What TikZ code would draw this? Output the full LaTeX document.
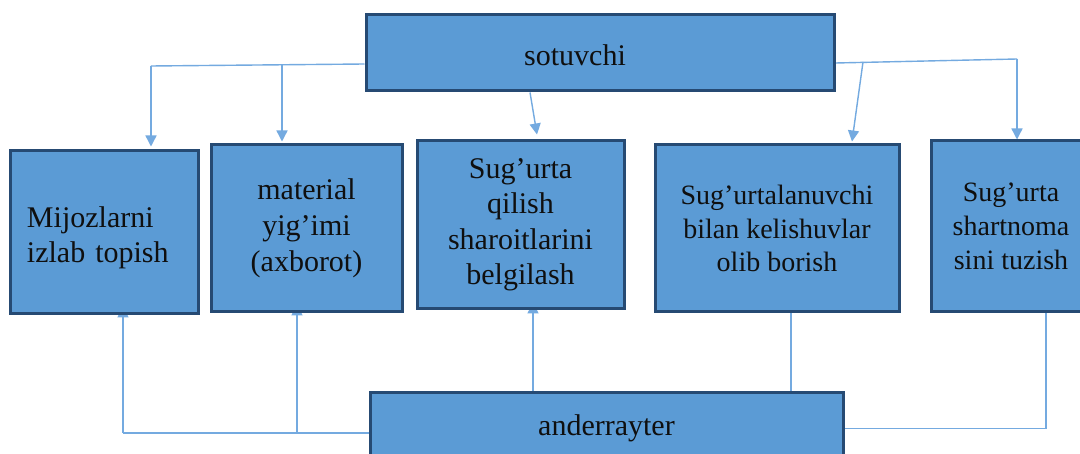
\documentclass[tikz,border=0pt]{standalone}
\usepackage{fontspec}
\setmainfont{Liberation Serif}
\usetikzlibrary{arrows.meta,backgrounds,calc}
\definecolor{boxfill}{RGB}{91,155,213}
\definecolor{boxedge}{RGB}{38,74,115}
\definecolor{linec}{RGB}{116,170,224}
\definecolor{txt}{RGB}{15,15,15}
\begin{document}
\begin{tikzpicture}[x=1pt,y=-1pt,
  box/.style={draw=boxedge, fill=boxfill, line width=3pt, inner sep=0pt, text=txt,
    font=\fontsize{30pt}{35pt}\selectfont, align=center},
  boxtext/.style={text=txt, font=\fontsize{30pt}{35pt}\selectfont, inner sep=0pt},
  conn/.style={draw=linec, line width=1.4pt},
  arr/.style={conn, -{Triangle[width=11pt,length=11pt]}, fill=linec}]
\clip (0,0) rectangle (1080,454);
\node[box, minimum width=468pt, minimum height=76pt,
  label={[boxtext,xshift=-25pt,yshift=-2pt]center:sotuvchi}] (sot) at (600,53) {};
\node[box, minimum width=188pt, minimum height=163pt,
  label={[boxtext,align=left,text width=154pt,yshift=-5pt]center:{Mijozlarni\\izlab topish}}] (b1) at (104,232.5) {};
\node[box, minimum width=191pt, minimum height=167pt, font=\fontsize{30pt}{36pt}\selectfont] (b2) at (306.5,228.5) {material\\yig’imi\\(axborot)};
\node[box, minimum width=207pt, minimum height=168pt, font=\fontsize{30pt}{35.5pt}\selectfont] (b3) at (520.5,225) {Sug’urta\\qilish\\sharoitlarini\\belgilash};
\node[box, minimum width=244pt, minimum height=167pt, font=\fontsize{28pt}{33.5pt}\selectfont] (b4) at (777,228.5) {Sug’urtalanuvchi\\bilan kelishuvlar\\olib borish};
\node[box, minimum width=160pt, minimum height=171pt, font=\fontsize{28pt}{34pt}\selectfont] (b5) at (1011,226.5) {Sug’urta\\shartnoma\\sini tuzish};
\node[box, minimum width=473pt, minimum height=70pt] (and) at (606.5,428) {anderrayter};
\coordinate (tl) at (151,66);
\coordinate (tm) at (282,65.5);
\coordinate (tr) at (1017,59);
\coordinate (tr2) at (863,62);
\coordinate (bl) at (123,433);
\coordinate (bm) at (297,433);
\coordinate (br) at (1046,428.5);
\coordinate (b3s) at ([xshift=12.5pt]b3.south);
\coordinate (b4s) at ([xshift=14pt]b4.south);
\coordinate (b5s) at ([xshift=35pt]b5.south);
\begin{scope}[on background layer]
\fill[white] (0,0) rectangle (1080,454);
\draw[conn] ([yshift=-11pt]sot.west) -- (tl);
\draw[arr] (tl) -- ([yshift=3pt]tl |- b1.north);
\draw[arr] (tm) -- ([yshift=2pt]tm |- b2.north);
\draw[arr] ([xshift=-70pt]sot.south) -- ([xshift=16.5pt,yshift=5pt]b3.north);
\draw[conn] ([yshift=-10pt]sot.east) -- (tr);
\draw[arr] (tr) -- (tr |- b5.north);
\draw[arr] (tr2) -- ([xshift=75pt,yshift=2pt]b4.north);
\draw[conn] ([yshift=-5pt]and.west) -- (bl);
\draw[arr] (bl) -- ($(bl |- b1.south)+(0,9pt)$);
\draw[arr] (bm) -- ($(bm |- b2.south)+(0,9pt)$);
\draw[arr] (b3s |- and.north) -- ($(b3s)+(0,8pt)$);
\draw[conn] (b4s) -- (b4s |- and.north);
\draw[conn] (b5s) -- (br) -- (and.east |- br);
\end{scope}
\end{tikzpicture}
\end{document}
